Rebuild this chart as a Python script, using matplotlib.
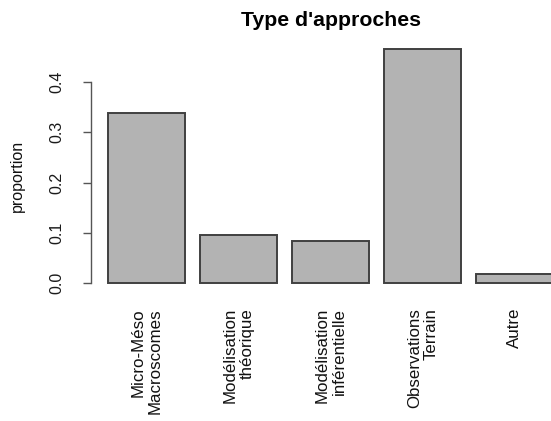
import matplotlib
matplotlib.use("Agg")
import matplotlib.pyplot as plt
import numpy as np

categories = ["Micro-Méso\nMacroscomes", "Modélisation\nthéorique", "Modélisation\ninférentielle",
              "Observations\nTerrain", "Autre"]
values = [0.337, 0.096, 0.084, 0.465, 0.018]
yticks = [0.0, 0.1, 0.2, 0.3, 0.4]
ytick_labels = ["0.0", "0.1", "0.2", "0.3", "0.4"]

plt.rcParams['font.family'] = ['Liberation Sans', 'DejaVu Sans']

W, H = 551, 421
fig = plt.figure(figsize=(W / 100, H / 100), dpi=100)
left_px, right_px, top_px, bottom_px = 90.5, 571.0, 39.6, 292.7
ax = fig.add_axes([left_px / W, 1 - bottom_px / H, (right_px - left_px) / W, (bottom_px - top_px) / H])

width = 1.0
space = 0.2
n = len(values)
centers = np.array([space + width / 2 + i * (width + space) for i in range(n)])

ax.bar(centers, values, width=width, color="#b3b3b3", edgecolor="#404040", linewidth=1.4)

xmin, xmax = space, n * (width + space)
ext = 0.04 * (xmax - xmin)
ax.set_xlim(xmin - ext, xmax + ext)
ymax = max(values)
ax.set_ylim(-0.04 * ymax, ymax * 1.04)

for s in ["top", "right", "bottom"]:
    ax.spines[s].set_visible(False)
ax.spines["left"].set_bounds(0, 0.4)
ax.spines["left"].set_color("#555555")
ax.spines["left"].set_linewidth(1.0)

ax.set_yticks(yticks)
ax.set_yticklabels(ytick_labels, rotation=90, va="center", fontsize=11.5, color="#1a1a1a")
ax.tick_params(axis="y", length=6, width=1.0, color="#555555", pad=13)

ax.set_xticks(centers)
ax.set_xticklabels(categories, rotation=90, ha="center", va="top", multialignment="right",
                   fontsize=12.2, color="#111111", linespacing=1.15)
ax.tick_params(axis="x", length=0, pad=11)

fig.text(17 / W, 1 - 176 / H, "proportion", rotation=90, ha="center", va="center",
         fontsize=11.5, color="#111111")
fig.text((left_px + right_px) / 2 / W, 1 - 21 / H, "Type d'approches", ha="center", va="center",
         fontsize=15.3, fontweight="bold", color="#000000")

fig.savefig("out.png", dpi=100)
